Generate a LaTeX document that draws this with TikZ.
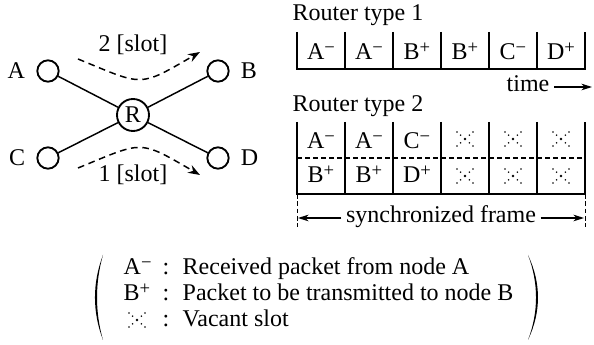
\documentclass[tikz,border=0pt]{standalone}
\usepackage{fontspec}
\setmainfont{Liberation Serif}
\usetikzlibrary{arrows.meta, positioning, calc}

\newcommand{\inpkt}[1]{#1\raisebox{0.62ex}{\fontsize{14}{14}\selectfont −}}
\newcommand{\outpkt}[1]{#1\raisebox{0.62ex}{\fontsize{14}{14}\selectfont +}}

\tikzset{
  station/.style={draw, circle, line width=1.4pt, minimum size=16pt, inner sep=0pt},
  router/.style={draw, circle, line width=1.4pt, minimum size=24pt, inner sep=0pt},
  link/.style={line width=1.1pt},
  flow/.style={line width=1.1pt, dash pattern=on 5pt off 3.5pt, -{Stealth[length=9pt, width=6.5pt]}},
  thin rule/.style={line width=0.8pt},
  thick rule/.style={line width=1.6pt},
  split rule/.style={line width=0.8pt, dash pattern=on 3.5pt off 2.5pt},
  guide/.style={line width=0.7pt, dash pattern=on 3.5pt off 2pt},
  pointer/.style={line width=0.8pt, -{Stealth[length=8pt, width=5pt]}},
  vacant/.pic={
    \fill (0,0) circle[radius=1pt];
    \foreach \s in {-1,-0.55,0.55,1}
      {\fill (8*\s,7*\s) circle[radius=0.65pt];
       \fill (8*\s,-7*\s) circle[radius=0.65pt];}
  }
}

\begin{document}
\begin{tikzpicture}[x=0.75pt, y=-0.75pt, font=\fontsize{18}{21}\selectfont]
\useasboundingbox (0,0) rectangle (594,345);

% stations around the router
\node[station] (A) at (48,71) {};
\node[station] (B) at (218,71) {};
\node[station] (C) at (48,158) {};
\node[station] (D) at (218,158) {};
\node[router] (R) at (133,115) {R};
\draw[link] (A) -- (R) -- (D);
\draw[link] (C) -- (R) -- (B);

%label stations
\node (labA) [left=5pt of A] {A};
\node (labB) [right=5pt of B] {B};
\node (labC) [left=5pt of C] {C};
\node (labD) [right=5pt of D] {D};

% traffic through R
\coordinate (up0) at (78,59);
\coordinate (up1) at (200,52);
\draw[flow] (up0) .. controls (144,86) and (138,88) .. (up1);
\node (slot2) [anchor=base] at (133,52) {2 [slot]};

\coordinate (dn0) at (78,168);
\coordinate (dn1) at (200,175);
\draw[flow] (dn0) .. controls (144,141) and (138,139) .. (dn1);
\node (slot1) [anchor=base] at (133,182) {1 [slot]};

% router type 1
\node (type1) [anchor=base west] at (288,21) {Router type 1};
\draw[thick rule] (297,32) -- (297,69) -- (585,69) -- (585,32);
\foreach \x in {345,393,441,489,537}
  \draw[thin rule] (\x,32) -- (\x,69);
\foreach \t [count=\i] in {\inpkt{A},\inpkt{A},\outpkt{B},\outpkt{B},\inpkt{C},\outpkt{D}}
  \node (one\i) [anchor=base] at (273+48*\i,60) {\t};

\node (time) [anchor=base] at (528,92) {time};
\coordinate (tend) at (592,87);
\draw[pointer] (time.east |- tend) -- (tend);

% router type 2
\node (type2) [anchor=base west] at (288,112) {Router type 2};
\draw[thick rule] (297,122) -- (297,194) -- (585,194) -- (585,122);
\foreach \x in {345,393,441,489,537}
  \draw[thin rule] (\x,122) -- (\x,194);
\draw[split rule] (297,158) -- (585,158);
\foreach \t [count=\i] in {\inpkt{A},\inpkt{A},\inpkt{C}}
  \node (two\i) [anchor=base] at (273+48*\i,149) {\t};
\foreach \t [count=\i] in {\outpkt{B},\outpkt{B},\outpkt{D}}
  \node (three\i) [anchor=base] at (273+48*\i,183) {\t};
\foreach \i in {4,5,6}
  {\pic at (273+48*\i,139) {vacant};
   \pic at (273+48*\i,176) {vacant};}

% frame length
\draw[guide] (297,194) -- (297,227);
\draw[guide] (585,194) -- (585,227);
\node (frame) [anchor=base] at (441,223) {synchronized frame};
\coordinate (fl) at (298,218);
\coordinate (fr) at (584,218);
\draw[pointer] (frame.west |- fl) -- (fl);
\draw[pointer] (frame.east |- fr) -- (fr);

% legend
\fill (103,255) .. controls (92.3,283) and (92.3,312) .. (103,340)
  .. controls (95,312) and (95,283) .. (103,255);
\fill (528,255) .. controls (541.3,283) and (541.3,312) .. (528,340)
  .. controls (538.7,312) and (538.7,283) .. (528,255);

\node (keyA) [anchor=base west] at (119,275) {\inpkt{A}};
\node (colA) [anchor=base] at (166,275) {:};
\node (txtA) [anchor=base west] at (178,275) {Received packet from node A};
\node (keyB) [anchor=base west] at (119,301) {\outpkt{B}};
\node (colB) [anchor=base] at (166,301) {:};
\node (txtB) [anchor=base west] at (178,301) {Packet to be transmitted to node B};
\pic at (137,320) {vacant};
\node (colV) [anchor=base] at (166,327) {:};
\node (txtV) [anchor=base west] at (178,327) {Vacant slot};

\end{tikzpicture}
\end{document}
